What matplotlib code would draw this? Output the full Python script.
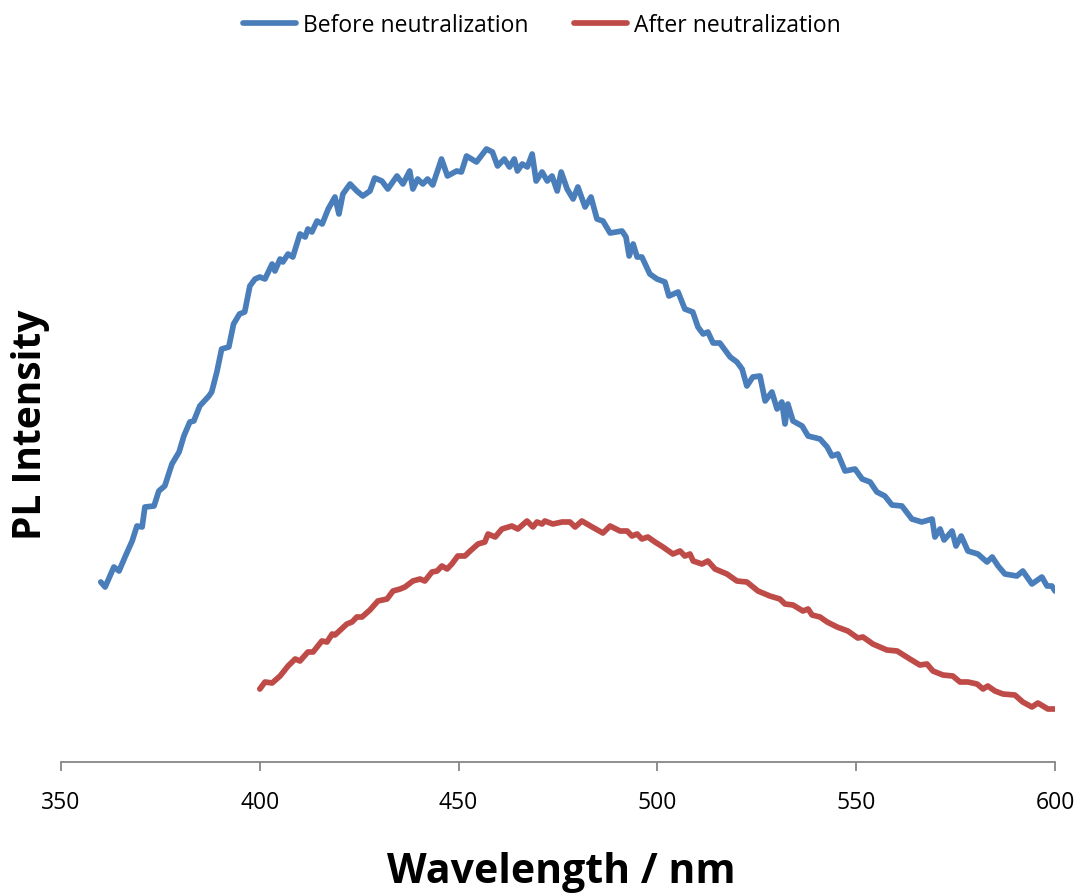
import matplotlib
matplotlib.use("Agg")
import matplotlib.pyplot as plt

# --- data (wavelength in nm, PL intensity in arbitrary units) ---
before_nm = [360.0, 361.1, 363.3, 364.6, 366.1, 367.9, 369.1, 370.4, 371.1, 373.4,
             374.6, 376.1, 377.9, 379.7, 380.9, 382.4, 383.4, 384.9, 387.2, 387.9,
             389.2, 390.4, 392.2, 393.4, 394.9, 396.2, 397.5, 398.8, 400.0, 401.3,
             403.1, 403.8, 405.1, 405.8, 407.1, 408.3, 410.1, 411.4, 412.1, 413.1,
             414.4, 415.7, 417.2, 418.9, 419.9, 420.9, 422.7, 424.4, 425.9, 427.7,
             428.9, 430.7, 432.2, 434.5, 436.0, 437.7, 438.5, 439.7, 441.0, 442.2,
             443.5, 445.7, 447.2, 449.5, 450.7, 452.0, 454.5, 457.0, 458.5, 459.8,
             461.5, 462.8, 464.0, 464.8, 466.0, 467.3, 468.5, 469.5, 471.0, 472.3,
             473.5, 474.8, 475.8, 477.3, 478.8, 480.0, 481.8, 483.3, 484.8, 486.3,
             488.1, 491.1, 492.1, 492.9, 493.9, 494.9, 496.1, 498.1, 499.9, 501.9,
             502.9, 505.2, 506.9, 508.9, 510.2, 511.5, 512.7, 514.0, 515.7, 518.3,
             520.0, 521.3, 522.5, 524.0, 525.8, 527.1, 528.8, 530.1, 531.3, 532.1,
             532.8, 534.1, 536.4, 537.9, 540.9, 542.7, 543.9, 545.4, 547.2, 549.7,
             551.5, 553.5, 555.2, 557.2, 559.0, 561.5, 564.0, 566.5, 569.1, 569.8,
             571.1, 572.1, 574.1, 575.1, 576.4, 578.1, 580.6, 582.9, 584.2, 585.7,
             587.4, 590.4, 591.9, 594.2, 596.7, 598.0, 599.2, 600.0]
before_int = [180, 175, 195, 191, 205, 221, 236, 235, 255, 256,
              271, 276, 298, 310, 326, 340, 341, 356, 366, 370,
              390, 413, 415, 438, 448, 450, 476, 483, 485, 483,
              498, 491, 503, 500, 508, 505, 528, 525, 533, 530,
              541, 538, 553, 565, 548, 568, 578, 571, 566, 571,
              584, 581, 573, 586, 578, 591, 573, 583, 578, 583,
              577, 603, 586, 591, 590, 606, 600, 613, 610, 596,
              603, 595, 603, 591, 598, 595, 608, 581, 590, 581,
              586, 571, 590, 573, 563, 575, 555, 565, 543, 541,
              529, 531, 525, 506, 518, 505, 505, 488, 483, 480,
              466, 470, 453, 450, 435, 428, 430, 419, 419, 405,
              400, 393, 376, 385, 386, 361, 370, 353, 360, 338,
              358, 341, 336, 326, 323, 315, 306, 308, 291, 293,
              283, 280, 270, 266, 257, 256, 243, 240, 243, 225,
              233, 222, 231, 216, 226, 211, 208, 200, 205, 196,
              188, 186, 191, 178, 185, 176, 176, 171]

after_nm = [400.0, 401.3, 403.1, 405.1, 407.1, 408.9, 410.1, 412.1, 413.4, 415.6,
            416.9, 418.2, 418.9, 421.9, 423.2, 424.4, 425.7, 427.7, 429.7, 432.0,
            433.5, 435.3, 436.5, 438.5, 440.3, 441.5, 443.3, 444.6, 445.8, 447.1,
            448.3, 449.8, 451.6, 452.9, 454.9, 456.6, 457.4, 459.2, 460.9, 463.4,
            464.9, 467.2, 468.7, 469.7, 471.0, 471.7, 473.7, 476.0, 478.0, 479.3,
            481.0, 483.6, 486.3, 488.1, 490.6, 492.4, 493.6, 494.9, 496.1, 497.6,
            499.4, 501.4, 503.9, 505.7, 506.9, 508.2, 509.0, 511.2, 512.7, 514.5,
            517.5, 520.0, 522.5, 525.3, 528.3, 530.8, 532.1, 534.1, 536.6, 537.9,
            538.9, 540.9, 542.7, 545.2, 547.9, 550.4, 551.7, 554.2, 557.7, 560.3,
            563.5, 566.0, 567.8, 569.3, 571.8, 574.3, 576.1, 578.1, 580.4, 581.9,
            583.1, 584.9, 586.9, 589.9, 591.9, 594.2, 595.7, 598.2, 600.0]
after_int = [73, 80, 79, 86, 96, 103, 101, 110, 110, 121,
             120, 128, 127, 138, 140, 145, 145, 152, 161, 163,
             171, 173, 175, 181, 183, 181, 190, 191, 196, 193,
             198, 206, 206, 211, 218, 220, 228, 225, 233, 236,
             233, 241, 235, 240, 238, 241, 238, 240, 240, 235,
             241, 235, 229, 236, 231, 231, 226, 228, 223, 225,
             220, 215, 208, 211, 206, 208, 201, 198, 201, 193,
             188, 181, 180, 171, 166, 163, 158, 157, 151, 153,
             147, 145, 140, 135, 131, 124, 125, 118, 112, 111,
             103, 97, 98, 91, 87, 86, 80, 80, 78, 73,
             76, 71, 68, 67, 60, 55, 59, 53, 53]

x_ticks = [350, 400, 450, 500, 550, 600]
series_labels = ["Before neutralization", "After neutralization"]
series_colors = ["#4A7EBB", "#BE4B48"]

FONT = "Open Sans"

fig = plt.figure(figsize=(10.8, 8.95), dpi=100)
ax = fig.add_axes([61 / 1080, (895 - 763) / 895, 994 / 1080, 700 / 895])

for xs, ys, lab, col in [(before_nm, before_int, series_labels[0], series_colors[0]),
                         (after_nm, after_int, series_labels[1], series_colors[1])]:
    ax.plot(xs, ys, color=col, lw=4.1, label=lab,
            solid_joinstyle="round", solid_capstyle="round")

ax.set_xlim(350, 600)
ax.set_ylim(0, 700)
ax.set_xticks(x_ticks)
ax.set_xticklabels([str(t) for t in x_ticks], fontsize=16.5, family=FONT)
ax.set_yticks([])
for s in ["top", "right", "left"]:
    ax.spines[s].set_visible(False)
ax.spines["bottom"].set_color("#868686")
ax.spines["bottom"].set_linewidth(1.3)
ax.tick_params(axis="x", direction="out", length=6.5, width=1.3, color="#868686",
               pad=14, labelcolor="black")

fig.text(561 / 1080, 1 - 883 / 895, "Wavelength / nm", fontsize=29.5,
         fontweight="bold", family=FONT, ha="center", va="baseline")
fig.text(31 / 1080, 1 - 425 / 895, "PL Intensity", rotation=90, fontsize=28,
         fontweight="bold", family=FONT, ha="center", va="center")

fig.legend(loc="center", bbox_to_anchor=(542 / 1080, 1 - 26 / 895), ncol=2,
           frameon=False, handlelength=2.3, handletextpad=0.3, columnspacing=2.0,
           borderpad=0, borderaxespad=0,
           prop={"family": FONT, "size": 16.5})

fig.savefig("out.png", dpi=100)
